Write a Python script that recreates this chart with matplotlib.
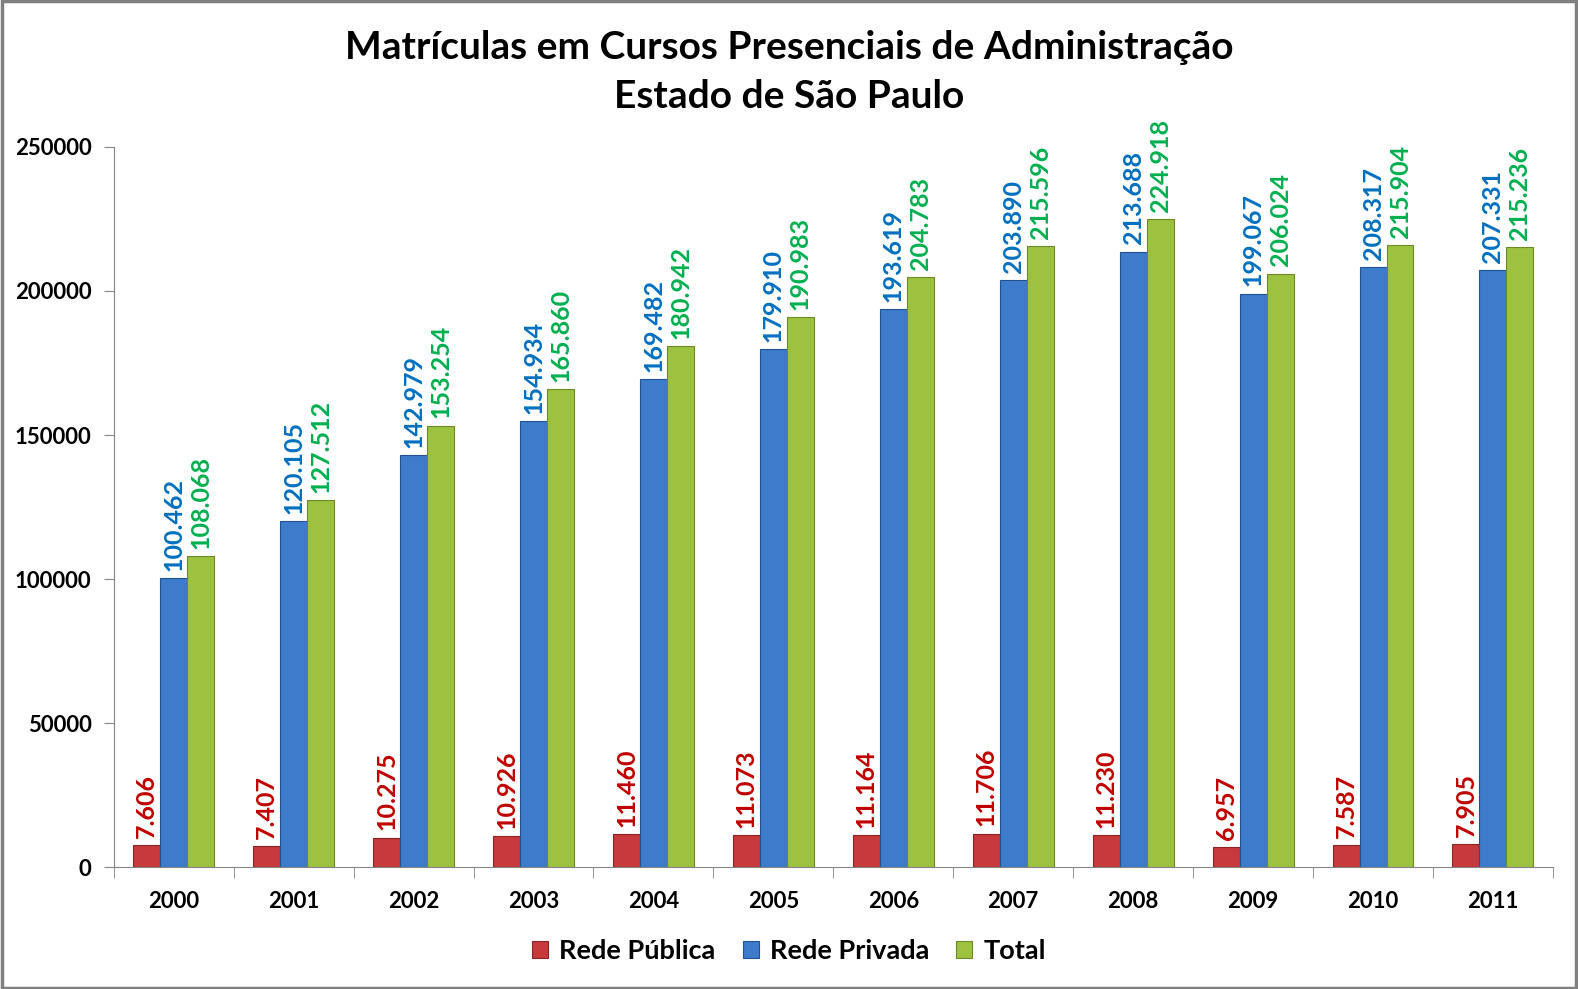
import matplotlib.pyplot as plt
import numpy as np
from matplotlib.patches import Rectangle

anos = ['2000', '2001', '2002', '2003', '2004', '2005', '2006', '2007', '2008', '2009', '2010', '2011']
publica = [7606, 7407, 10275, 10926, 11460, 11073, 11164, 11706, 11230, 6957, 7587, 7905]
privada = [100462, 120105, 142979, 154934, 169482, 179910, 193619, 203890, 213688, 199067, 208317, 207331]
total = [108068, 127512, 153254, 165860, 180942, 190983, 204783, 215596, 224918, 206024, 215904, 215236]
series = ['Rede Pública', 'Rede Privada', 'Total']

plt.rcParams['font.family'] = ['Lato', 'DejaVu Sans']
plt.rcParams['font.weight'] = 'bold'

fig = plt.figure(figsize=(15.78, 9.89), dpi=100)
ax = fig.add_axes([0.0721, 0.1231, 0.912, 0.7284])

x = np.arange(len(anos))
w = 0.225
cores = ['#C8393B', '#3C7CCB', '#9CC23F']
bordas = ['#8C2426', '#24528E', '#6C8A28']
lbl_cores = ['#C00000', '#0070C0', '#00B050']

for i, (vals, nome) in enumerate(zip([publica, privada, total], series)):
    pos = x + (i - 1) * w
    ax.bar(pos, vals, width=w, color=cores[i], edgecolor=bordas[i], linewidth=0.8, label=nome)
    for px, v in zip(pos, vals):
        txt = f'{v:,}'.replace(',', '.')
        ax.text(px, v + 2500, txt, rotation=90, ha='center', va='bottom',
                color=lbl_cores[i], fontsize=18, fontweight='bold')

ax.set_xlim(-0.5, len(anos) - 0.5)
ax.set_ylim(0, 250000)
ax.set_yticks(np.arange(0, 250001, 50000))
ax.set_yticklabels([str(v) for v in range(0, 250001, 50000)], fontsize=16, fontweight='bold')
ax.set_xticks(x)
ax.set_xticklabels(anos, fontsize=16, fontweight='bold')
ax.set_xticks(np.arange(-0.5, len(anos)), minor=True)
ax.tick_params(axis='x', which='major', length=0, pad=17)
ax.tick_params(axis='x', which='minor', length=8, color='#868686')
ax.tick_params(axis='y', length=7, color='#868686', pad=9)

for s in ['top', 'right']:
    ax.spines[s].set_visible(False)
for s in ['left', 'bottom']:
    ax.spines[s].set_color('#868686')

fig.suptitle('Matrículas em Cursos Presenciais de Administração\nEstado de São Paulo',
             y=0.97, fontsize=28, fontweight='bold', linespacing=1.5)

leg = fig.legend(loc='center', bbox_to_anchor=(0.5, 0.038), ncol=3, frameon=False,
                 fontsize=19.5, handlelength=0.6, handleheight=0.6, columnspacing=1.0,
                 handletextpad=0.4)

fig.patches.append(Rectangle((0.001, 0.001), 0.998, 0.998, transform=fig.transFigure,
                             fill=False, edgecolor='#808080', linewidth=2.5))

fig.savefig('out.png', dpi=100)
